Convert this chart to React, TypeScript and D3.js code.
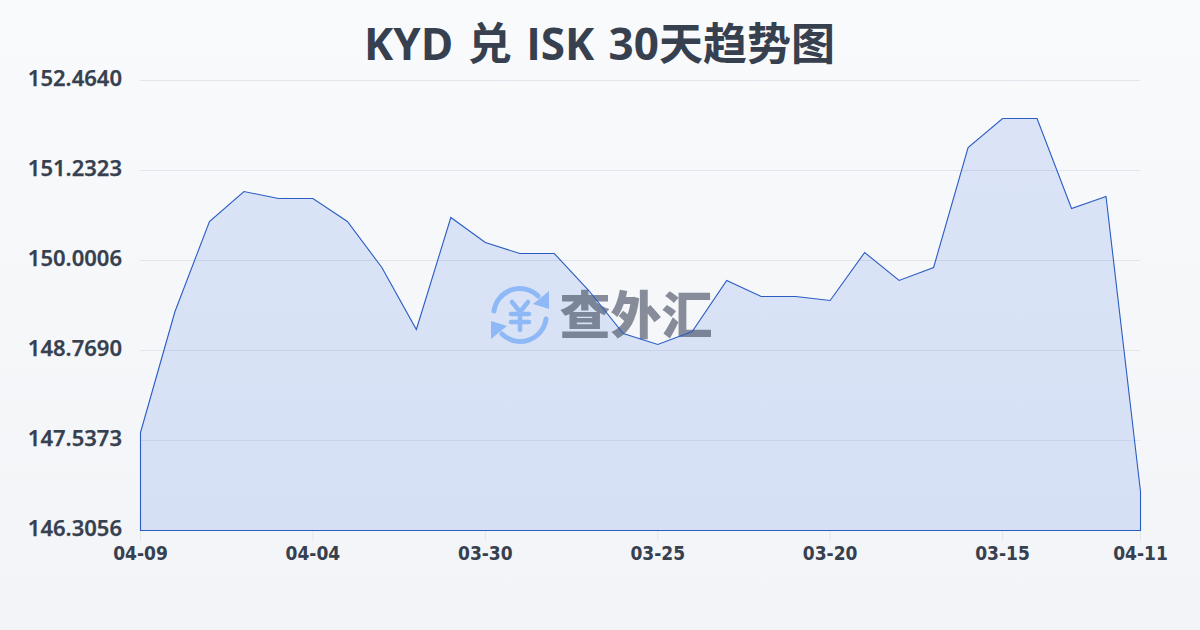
import React from "react";
import * as d3 from "d3";

const title = "KYD 兑 ISK 30天趋势图";
const values = [147.647,149.303,150.534,150.945,150.849,150.849,150.534,149.905,149.056,150.589,150.247,150.096,150.096,149.590,149.001,148.851,149.029,149.727,149.508,149.508,149.453,150.110,149.727,149.905,151.547,151.944,151.944,150.712,150.876,146.839];
const xTickIndex = [0,5,10,15,20,25,29];
const xTickLabels = ["04-09","04-04","03-30","03-25","03-20","03-15","04-11"];
const yTicks = [146.3056,147.5373,148.769,150.0006,151.2323,152.464];
const yTickLabels = ["146.3056","147.5373","148.7690","150.0006","151.2323","152.4640"];

const F = "'Open Sans','Noto Sans CJK SC',sans-serif";

export default function App() {
  const x = d3.scaleLinear().domain([0, 29]).range([140.5, 1140.5]);
  const y = d3.scaleLinear().domain([146.3056, 152.464]).range([530.5, 80.5]);
  const area = d3.area<number>().x((_, i) => x(i)).y0(530.5).y1(d => y(d));
  const d = area(values) + "";
  return (
    <svg width={1200} height={630} viewBox="0 0 1200 630" style={{ position: "fixed", left: 0, top: 0 }}>
      <defs>
        <linearGradient id="bg" x1="0" y1="0" x2="0" y2="1">
          <stop offset="0" stopColor="#f9fafc" />
          <stop offset="1" stopColor="#f2f4f7" />
        </linearGradient>
      </defs>
      <rect width={1200} height={630} fill="url(#bg)" />
      <text x={599.5} y={60} textAnchor="middle" fontFamily={F} fontWeight={700} fontSize={44} wordSpacing={3} fill="#36404f">{title}</text>
      {yTicks.map((t, i) => (
        <g key={i}>
          {i > 0 && <line x1={140} x2={1140} y1={y(t)} y2={y(t)} stroke="#e2e6ec" />}
          <text x={122} y={Math.round(y(t) + 5.5)} textAnchor="end" fontFamily="'Noto Sans',sans-serif" fontWeight={600} fontSize={22} stroke="#36404f" strokeWidth={0.25} fill="#36404f">{yTickLabels[i]}</text>
        </g>
      ))}
      {xTickIndex.map((t, i) => (
        <g key={i}>
          <line x1={x(t)} x2={x(t)} y1={531} y2={541} stroke="#e2e6ec" />
          <text x={x(t)} y={560} textAnchor="middle" fontFamily="'DejaVu Sans Condensed','DejaVu Sans',sans-serif" fontStretch="condensed" fontWeight={700} fontSize={19} fill="#36404f">{xTickLabels[i]}</text>
        </g>
      ))}
      <path d={d} fill="#2a66e4" fillOpacity={0.14} stroke="none" />
      <g>
        <g transform="translate(520,315)" fill="none" stroke="#8fb8f6" strokeWidth={5} strokeLinecap="round">
          <path d="M-26,-4 A26,26 0 0 1 18,-19" />
          <path d="M26,4 A26,26 0 0 1 -18,19" />
          <path d="M13,-11 L29,-6 L29,-24 Z" fill="#8fb8f6" stroke="none" />
          <path d="M-13,11 L-29,6 L-29,24 Z" fill="#8fb8f6" stroke="none" />
          <path d="M-8,-13 L0,-3 L8,-13 M-9,-1 H9 M-9,7 H9 M0,-3 V15" strokeWidth={4.5} />
        </g>
        <text x={636} y={334} textAnchor="middle" fontFamily="'Noto Sans CJK SC',sans-serif" fontWeight={900} fontSize={51} fill="#4a5365" fillOpacity={0.65}>查外汇</text>
      </g>
      <path d={d} fill="none" stroke="#2a5cc4" strokeWidth={1.1} />
    </svg>
  );
}
